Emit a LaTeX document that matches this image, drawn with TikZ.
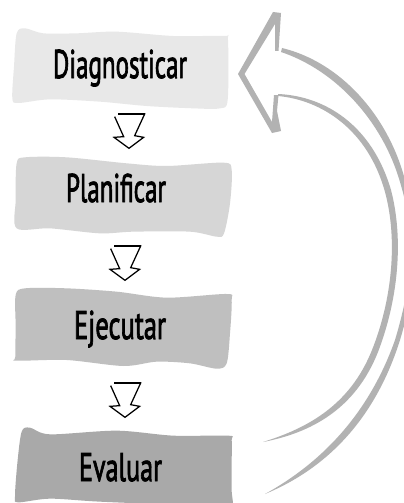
\documentclass[tikz,border=0pt]{standalone}
\usepackage{fontspec}
\usepackage{graphicx}
\setmainfont{PT Sans}
\newfontfamily\labelfont[FakeBold=2.4]{PT Sans}
\newcommand{\fitw}[2]{\resizebox{#1}{\height}{#2}}
\tikzset{
  px/.style={x=1pt,y=-1pt},
  zoomed/.style={x=0.33333pt,y=-0.33333pt},
  label text/.style={anchor=base,inner sep=0pt,text=black,font=\labelfont\fontsize{40}{40}\selectfont},
  loop gray/.style={fill=loopgray,draw=none},
  down arrow/.pic={
    \draw[line width=1.25pt,black,line join=miter,x=0.33333pt,y=-0.33333pt]
      (-43,-52) -- (-16,8) -- (-45,10) -- (0,43) -- (44,10) -- (17,5) -- (47,-60) -- (-33,-60);
    \draw[line width=1.6pt,black,x=0.33333pt,y=-0.33333pt] (-33,-60) -- (47,-60);
  }
}
\definecolor{boxa}{HTML}{E8E8E8}
\definecolor{boxb}{HTML}{D6D6D6}
\definecolor{boxc}{HTML}{BFBFBF}
\definecolor{boxd}{HTML}{A9A9A9}
\definecolor{loopgray}{HTML}{B2B2B2}
\begin{document}
\begin{tikzpicture}[px]
\useasboundingbox (0,0) rectangle (404,503);
\clip (0,0) rectangle (404,503);
\fill[white] (0,0) rectangle (404,503);
% boxes
\begin{scope}[zoomed]
\fill[boxa] plot[smooth cycle,tension=0.5] coordinates {(50,100)(75,85)(130,100)(230,100)(350,95)(520,108)(672,108)(684,120)(683,300)(660,325)(580,325)(440,318)(300,305)(150,298)(55,309)(37,295)(42,200)};
\fill[boxb] plot[smooth cycle,tension=0.5] coordinates {(50,490)(75,472)(200,472)(380,490)(500,498)(670,488)(695,510)(690,610)(672,700)(650,710)(570,695)(400,695)(300,700)(150,685)(50,685)(47,600)};
\begin{scope}[yshift=-250pt]
\fill[boxc] plot[smooth cycle,tension=0.5] coordinates {(47,135)(75,115)(200,115)(350,125)(500,143)(680,132)(695,150)(690,250)(680,340)(650,356)(570,340)(470,335)(370,348)(200,330)(50,332)(46,320)(47,230)};
\fill[boxd] plot[smooth cycle,tension=0.5] coordinates {(65,545)(90,533)(150,553)(350,542)(520,557)(685,557)(695,570)(695,640)(695,720)(692,775)(600,768)(300,755)(150,746)(55,757)(45,740)(52,640)};
\end{scope}
\end{scope}
% labels
\node[label text] (diag) at (120,78) {\fitw{134pt}{Diagnosticar}};
\node[label text] (plan) at (116,202) {\fitw{100pt}{Planificar}};
\node[label text] (ejec) at (120,339) {\fitw{92pt}{Ejecutar}};
\node[label text] (eval) at (120.5,481) {\fitw{83pt}{Evaluar}};
% small arrows
\path (129,134) pic {down arrow};
\path (125,266) pic {down arrow};
\path (125,403) pic {down arrow};
% big return arrow
\fill[loop gray] (275,51)--(278.5,51)--(281,13)--(273,12)--(238,74)--(272,133)--(281,131)--(277,111)--(278.5,95)--(274,95)--(272,122)--(244.5,74)--(275,24)--cycle;
\fill[loop gray] (282,48) .. controls (340,62) and (388,115) .. (405,180) .. controls (420,235) and (418,280) .. (400,340) .. controls (378,410) and (335,465) .. (265,494)
  .. controls (330,458) and (372,405) .. (395,340) .. controls (413,280) and (416,235) .. (400,182) .. controls (382,120) and (335,70) .. (281,52) -- cycle;
\fill[loop gray] (278,94) .. controls (325,96) and (372,125) .. (391,190) .. controls (404,240) and (398,300) .. (378,352) .. controls (355,410) and (310,433) .. (263,442)
  .. controls (308,428) and (350,405) .. (372,350) .. controls (392,300) and (398,240) .. (385,192) .. controls (368,130) and (322,100) .. (278,96) -- cycle;
\end{tikzpicture}
\end{document}
